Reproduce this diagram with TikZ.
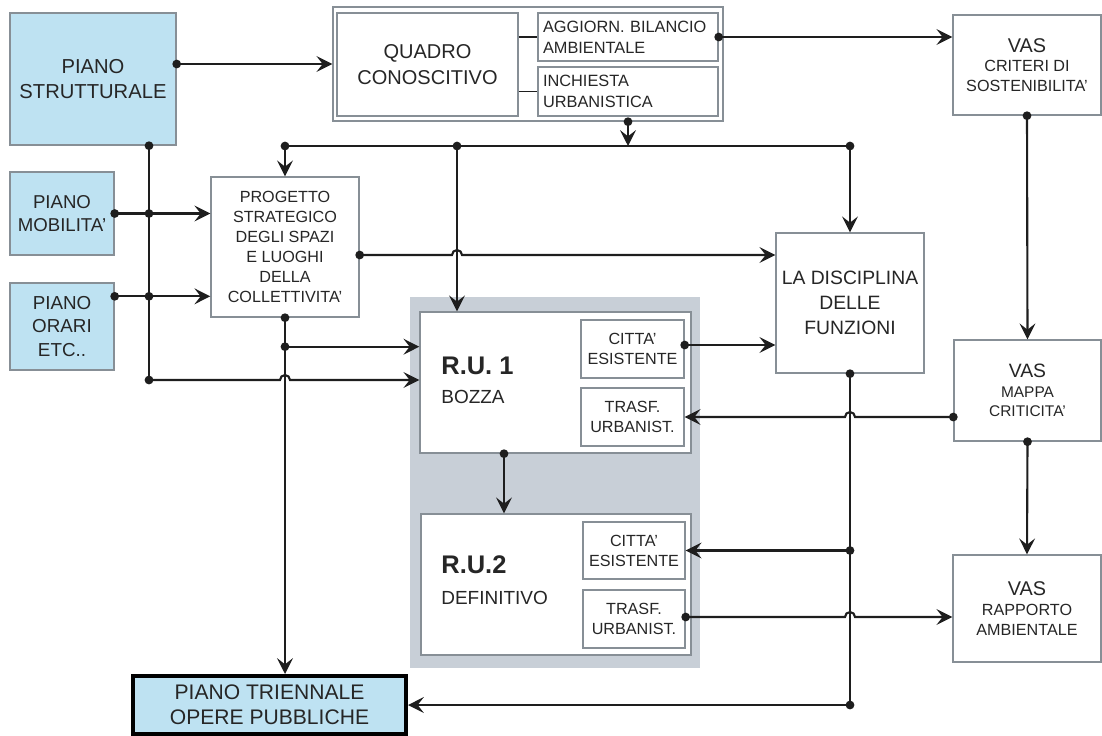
\documentclass[tikz,border=0pt]{standalone}
\usepackage{fontspec}
\setmainfont{Liberation Sans}
\usetikzlibrary{arrows.meta,calc}
\definecolor{pianoblu}{RGB}{190,226,242}
\definecolor{bordo}{RGB}{135,143,150}
\definecolor{pannello}{RGB}{200,207,215}
\definecolor{linea}{RGB}{30,30,30}
\begin{document}
\begin{tikzpicture}[x=0.02cm,y=-0.02cm,
  box/.style={draw=bordo,line width=0.8pt,fill=white,align=center,inner sep=0pt,text=black!85},
  piano/.style={box,fill=pianoblu},
  conn/.style={draw=linea,line width=1.2pt,-{Stealth[length=9pt,width=9pt,inset=3.5pt]}},
  link/.style={draw=linea,line width=1.2pt},
  grande/.style={font=\fontsize{11.5}{13.8}\selectfont},
  piccolo/.style={font=\fontsize{9.2}{11.3}\selectfont}]

  \useasboundingbox (0,0) rectangle (1102,735);

% blocchi a sinistra
  \node[piano,grande,minimum width=3.32cm,minimum height=2.64cm] (strutt) at (93,79) {PIANO\\STRUTTURALE};
  \node[piano,font=\fontsize{10.6}{12.9}\selectfont,minimum width=2.08cm,minimum height=1.66cm] (mobil) at (62,213.5) {PIANO\\MOBILITA'};
  \node[piano,font=\fontsize{10.7}{13.2}\selectfont,minimum width=2.08cm,minimum height=1.74cm] (orari) at (62,326.5) {PIANO\\ORARI\\ETC..};
  \node[box,piccolo,minimum width=2.96cm,minimum height=2.8cm] (progetto) at (285,247) {PROGETTO\\STRATEGICO\\DEGLI SPAZI\\E LUOGHI\\DELLA\\COLLETTIVITA'};
  \node[piano,draw=black,line width=2.3pt,font=\fontsize{12}{14.2}\selectfont,minimum width=5.46cm,minimum height=1.16cm] (triennale) at (269.5,705) {PIANO TRIENNALE\\OPERE PUBBLICHE};

% quadro conoscitivo
  \node[box,minimum width=7.8cm,minimum height=2.28cm] (quadroext) at (528,64) {};
  \node[box,font=\fontsize{11.4}{14.6}\selectfont,minimum width=3.62cm,minimum height=2.06cm] (quadro) at (427.5,64.5) {QUADRO\\CONOSCITIVO};
  \node[box,align=left,text width=3.4cm,minimum width=3.6cm,minimum height=0.96cm,font=\fontsize{9.3}{12}\selectfont] (aggiorn) at (628,37) {AGGIORN. BILANCIO\\AMBIENTALE};
  \node[box,align=left,text width=3.4cm,minimum width=3.6cm,minimum height=0.98cm,font=\fontsize{9.3}{12}\selectfont] (inchiesta) at (628,91.5) {INCHIESTA\\URBANISTICA};

% VAS
  \node[box,piccolo,minimum width=2.96cm,minimum height=2cm] (vascrit) at (1027,65) {{\fontsize{11.3}{12}\selectfont VAS}\\CRITERI DI\\SOSTENIBILITA'};
  \node[box,font=\fontsize{8.8}{11}\selectfont,minimum width=2.94cm,minimum height=2.02cm] (vasmappa) at (1027.5,390.5) {{\fontsize{11}{12}\selectfont VAS}\\MAPPA\\CRITICITA'};
  \node[box,piccolo,minimum width=2.96cm,minimum height=2.14cm] (vasrapp) at (1027,608.5) {{\fontsize{11.3}{12}\selectfont VAS}\\RAPPORTO\\AMBIENTALE};

  \node[box,font=\fontsize{11}{14.2}\selectfont,minimum width=2.96cm,minimum height=2.8cm] (disc) at (850,303) {LA DISCIPLINA\\DELLE\\FUNZIONI};

% regolamento urbanistico
  \node[fill=pannello,minimum width=5.8cm,minimum height=7.42cm,inner sep=0pt] (pannello) at (555,482.5) {};
  \node[box,minimum width=5.42cm,minimum height=2.82cm] (ru1) at (555.5,382.5) {};
  \node[box,piccolo,minimum width=2.06cm,minimum height=1.16cm] (ru1c) at (632.5,349) {CITTA'\\ESISTENTE};
  \node[box,piccolo,minimum width=2.06cm,minimum height=1.16cm] (ru1t) at (632.5,417) {TRASF.\\URBANIST.};
  \node[anchor=west,align=left,inner sep=0pt,text=black!85,font=\fontsize{10.8}{16.4}\selectfont] (ru1lab) at (441,380) {{\fontsize{14.5}{16}\selectfont\bfseries R.U. 1}\\BOZZA};
  \node[box,minimum width=5.4cm,minimum height=2.82cm] (ru2) at (556,584.5) {};
  \node[box,piccolo,minimum width=2.04cm,minimum height=1.14cm] (ru2c) at (634,550.5) {CITTA'\\ESISTENTE};
  \node[box,piccolo,minimum width=2.04cm,minimum height=1.16cm] (ru2t) at (634,619) {TRASF.\\URBANIST.};
  \node[anchor=west,align=left,inner sep=0pt,text=black!85,font=\fontsize{10.8}{17.5}\selectfont] (ru2lab) at (441,580) {{\fontsize{14.5}{16}\selectfont\bfseries R.U.2}\\DEFINITIVO};

% punti di snodo
  \coordinate (sT) at ($(strutt.south)+(56,0)$); \coordinate (sB) at (sT |- 0,380);
  \coordinate (oE) at ($(orari.north east)+(0,14)$);
  \coordinate (bL) at (progetto.north |- 0,146); \coordinate (bM) at (457,146); \coordinate (bR) at (disc.north |- bL);
  \coordinate (pE) at ($(progetto.east)+(0,8)$); \coordinate (pJ) at ($(progetto.south)+(0,29)$);
  \coordinate (r1S) at ($(ru1.south)+(-51.5,0)$); \coordinate (c1E) at ($(ru1c.east)+(0,-4)$);
  \coordinate (mW) at (vasmappa.west |- ru1t.east); \coordinate (t2E) at ($(ru2t.east)+(0,-2)$);
  \coordinate (dB) at (disc.south |- triennale.east); \coordinate (dC) at (disc.south |- ru2c.east);

% collegamenti
  \draw[conn] (strutt.east |- quadroext.west) -- (quadroext.west);
  \draw[linea,line width=0.8pt] (quadro.east |- aggiorn.west) -- (aggiorn.west); \draw[linea,line width=0.8pt] (quadro.east |- inchiesta.west) -- (inchiesta.west);
  \draw[conn] (aggiorn.east) -- (aggiorn.east -| vascrit.west);
  \draw[conn] (inchiesta.south |- quadroext.south) -- (inchiesta.south |- bL);
  \draw[link] (bL) -- (bR);
  \draw[conn] (bL) -- (progetto.north); \draw[conn] (bR) -- (disc.north); \draw[conn] (bM) -- (bM |- ru1.north);
  \draw[conn] (pE) -- ($(pE -| bM)+(-5,0)$) arc[start angle=180,end angle=0,radius=0.1cm] -- (pE -| disc.west);

  \draw[link] (sT) -- (sB);
  \draw[conn] (mobil.east) -- (mobil.east -| progetto.west); \draw[conn] (oE) -- (oE -| progetto.west);
  \draw[conn] (sB) -- ($(sB -| progetto.south)+(-5,0)$) arc[start angle=180,end angle=0,radius=0.1cm] -- (sB -| ru1.west);
  \draw[conn] (progetto.south) -- (progetto.south |- triennale.north); \draw[conn] (pJ) -- (pJ -| ru1.west);

  \draw[conn] (r1S) -- (r1S |- ru2.north);
  \draw[conn] (c1E) -- (c1E -| disc.west);
  \draw[conn] (vascrit.south) -- (vasmappa.north); \draw[conn] (vasmappa.south) -- (vasrapp.north);
  \draw[conn] (mW) -- ($(mW -| disc.south)+(5,0)$) arc[start angle=0,end angle=180,radius=0.1cm] -- (ru1t.east);
  \draw[link] (disc.south) -- (dB);
  \draw[conn] (dC) -- (ru2c.east); \draw[conn] (dB) -- (triennale.east);
  \draw[conn] (t2E) -- ($(t2E -| disc.south)+(-5,0)$) arc[start angle=180,end angle=0,radius=0.1cm] -- (t2E -| vasrapp.west);

% pallini
  \foreach \p in {strutt.east |- quadroext.west, aggiorn.east, inchiesta.south |- quadroext.south, bL, bM, bR, pE, sT, sB,
    mobil.east, mobil.east -| sT, oE, oE -| sT, progetto.south, pJ, r1S, c1E, vascrit.south, vasmappa.south, mW,
    disc.south, dB, dC, t2E}
    \fill[linea] (\p) circle (2.5pt);

\end{tikzpicture}
\end{document}
